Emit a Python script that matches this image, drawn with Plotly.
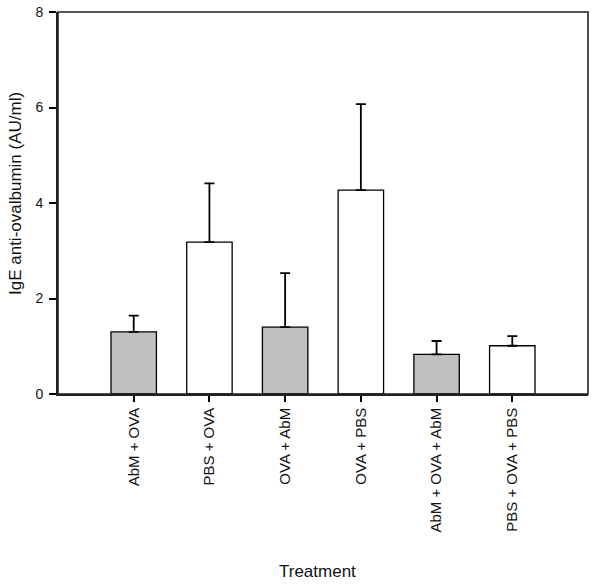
import plotly.graph_objects as go

categories = ["AbM + OVA", "PBS + OVA", "OVA + AbM", "OVA + PBS",
              "AbM + OVA + AbM", "PBS + OVA + PBS"]
values = [1.30, 3.18, 1.40, 4.27, 0.83, 1.01]
errors = [0.34, 1.23, 1.13, 1.80, 0.28, 0.20]
colors = ["#C0C0C0", "#FFFFFF", "#C0C0C0", "#FFFFFF", "#C0C0C0", "#FFFFFF"]
y_ticks = [0, 2, 4, 6, 8]

FONT = "Liberation Sans, Arial, sans-serif"

fig = go.Figure()
fig.add_trace(go.Bar(
    x=list(range(len(categories))),
    y=values,
    width=0.6,
    marker=dict(color=colors, line=dict(color="#000000", width=1.3)),
    error_y=dict(type="data", symmetric=False, array=errors,
                 arrayminus=[0] * len(errors), color="#000000",
                 thickness=1.8, width=5),
))

fig.add_shape(type="rect", xref="paper", yref="paper", x0=0, x1=1, y0=0, y1=1,
              line=dict(color="#222222", width=1.6), layer="above")

fig.add_annotation(text="Treatment", xref="paper", yref="paper",
                   x=(317 - 58) / 530, y=-(571 - 394) / 382,
                   xanchor="center", yanchor="middle", showarrow=False,
                   font=dict(family=FONT, size=17, color="#111111"))
fig.add_annotation(text="IgE anti-ovalbumin (AU/ml)", xref="paper", yref="paper",
                   x=-(58 - 15) / 530, y=(394 - 194) / 382, textangle=-90,
                   xanchor="center", yanchor="middle", showarrow=False,
                   font=dict(family=FONT, size=17, color="#111111"))

fig.update_layout(
    width=600, height=588,
    margin=dict(l=58, r=12, t=12, b=194),
    plot_bgcolor="white", paper_bgcolor="white",
    showlegend=False,
    font=dict(family=FONT, color="#111111"),
    xaxis=dict(
        range=[-1, 6], automargin=False,
        tickmode="array", tickvals=list(range(len(categories))),
        ticktext=categories, tickangle=-90,
        ticks="outside", ticklen=6, tickwidth=1.5, tickcolor="#000000",
        showline=True, linecolor="#222222", linewidth=1.6,
        showgrid=False, zeroline=False,
        tickfont=dict(family=FONT, size=15, color="#111111"),
    ),
    yaxis=dict(
        range=[0, 8], automargin=False,
        tickmode="array", tickvals=y_ticks,
        ticks="outside", ticklen=7, tickwidth=1.5, tickcolor="#000000",
        showline=True, linecolor="#222222", linewidth=1.6,
        showgrid=False, zeroline=False, ticklabelstandoff=3,
        tickfont=dict(family=FONT, size=14, color="#111111"),
    ),
)

fig.write_html(
    "out.html",
    config={"displayModeBar": False},
    post_script="document.body.style.margin='0';document.body.style.overflow='hidden';",
)
